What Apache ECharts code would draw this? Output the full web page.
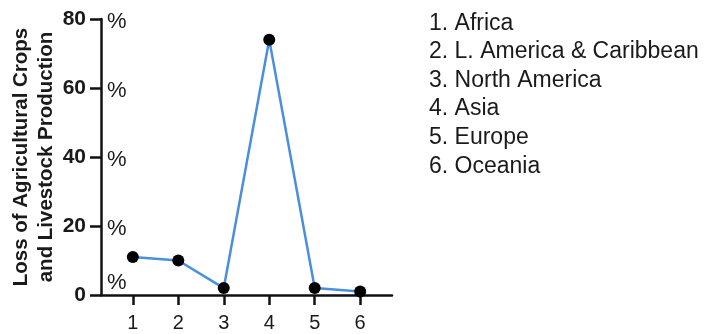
<!DOCTYPE html>
<html>
<head>
<meta charset="utf-8">
<script src="https://cdn.jsdelivr.net/npm/echarts@6/dist/echarts.min.js"></script>
<style>
  html, body { margin: 0; padding: 0; background: #fff; }
  #chart { width: 707px; height: 334px; }
</style>
</head>
<body>
<div id="chart"></div>
<script>
// Region index on the x axis and the share of losses for each region
const regionIndex = [1, 2, 3, 4, 5, 6];
const regionNames = ['Africa', 'L. America & Caribbean', 'North America', 'Asia', 'Europe', 'Oceania'];
const lossPercent = [11, 10, 2, 74, 2, 1];

const FONT = '"Liberation Sans", Arial, Helvetica, sans-serif';

const chart = echarts.init(document.getElementById('chart'), null, { renderer: 'canvas' });

const legendLines = regionIndex.map((n, i) => n + '. ' + regionNames[i]).join('\n');

chart.setOption({
  animation: false,
  backgroundColor: '#fff',
  grid: { left: 101, right: 315, top: 19, bottom: 39, containLabel: false },
  title: {
    text: legendLines,
    left: 424,
    top: 4,
    textStyle: {
      fontFamily: FONT,
      fontSize: 23,
      fontWeight: 'normal',
      color: '#1a1a1a',
      lineHeight: 28.6
    }
  },
  xAxis: {
    type: 'value',
    min: 0.3,
    max: 6.7,
    splitLine: { show: false },
    axisLine: { show: true, lineStyle: { color: '#111', width: 2.5 } },
    axisTick: {
      show: true,
      customValues: regionIndex,
      length: 10,
      lineStyle: { color: '#111', width: 2.5 }
    },
    axisLabel: {
      customValues: regionIndex,
      margin: 18,
      fontFamily: FONT,
      fontSize: 20,
      color: '#1a1a1a'
    }
  },
  yAxis: [
    {
      type: 'value',
      min: 0,
      max: 80,
      interval: 20,
      position: 'left',
      name: 'Loss of Agricultural Crops\nand Livestock Production',
      nameLocation: 'middle',
      nameGap: 41,
      nameTextStyle: {
        fontFamily: FONT,
        fontSize: 20.5,
        fontWeight: 'bold',
        color: '#1a1a1a',
        lineHeight: 25
      },
      splitLine: { show: false },
      axisLine: { show: true, lineStyle: { color: '#111', width: 2.5 } },
      axisTick: { show: true, length: 11, lineStyle: { color: '#111', width: 2.5 } },
      axisLabel: {
        margin: 15,
        fontFamily: FONT,
        fontSize: 21,
        fontWeight: 'bold',
        color: '#1a1a1a'
      }
    },
    {
      // percent signs drawn just inside the vertical axis
      type: 'value',
      min: 0,
      max: 80,
      interval: 20,
      position: 'left',
      splitLine: { show: false },
      axisLine: { show: false },
      axisTick: { show: false },
      axisLabel: {
        inside: true,
        margin: 6,
        formatter: v => (v === 0 ? '{lo|%}' : '{hi|%}'),
        rich: {
          hi: { fontFamily: FONT, fontSize: 22, color: '#1a1a1a', padding: [6, 0, 0, 0] },
          lo: { fontFamily: FONT, fontSize: 22, color: '#1a1a1a', padding: [0, 0, 24, 0] }
        }
      }
    }
  ],
  series: [
    {
      type: 'line',
      yAxisIndex: 0,
      data: regionIndex.map((x, i) => [x, lossPercent[i]]),
      symbol: 'circle',
      symbolSize: 12,
      itemStyle: { color: '#000' },
      lineStyle: { color: '#4a8fdc', width: 2.5 },
      z: 3
    }
  ]
});
</script>
</body>
</html>
